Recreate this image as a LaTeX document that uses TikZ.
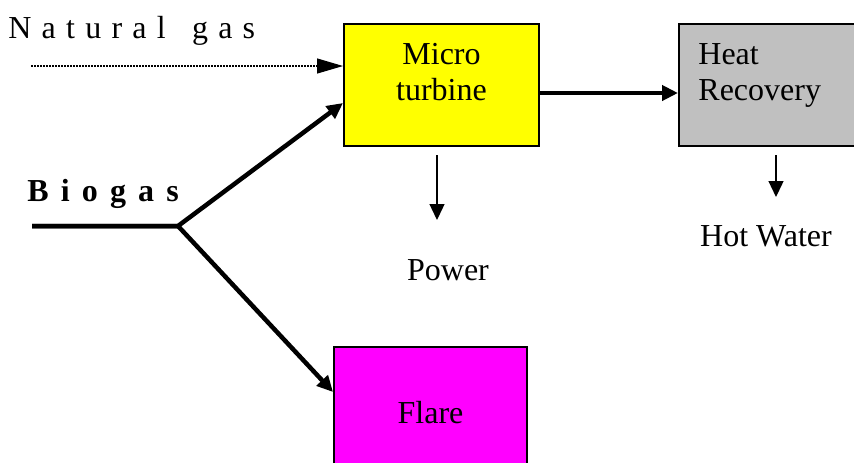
\documentclass[tikz,border=0pt]{standalone}
\usepackage{fontspec}
\setmainfont{Liberation Serif}
\usetikzlibrary{arrows.meta}
\definecolor{turbinefill}{HTML}{FFFF00}
\definecolor{heatfill}{HTML}{C0C0C0}
\definecolor{flarefill}{HTML}{FF00FF}

\begin{document}
\begin{tikzpicture}[x=0.5pt, y=-0.5pt, every node/.style={font=\fontsize{16}{18}\selectfont, inner sep=0pt}, box/.style={draw=black, line width=1pt, rectangle, minimum width=97.5pt, minimum height=61pt}, pipe/.style={line width=2.25pt, -{Triangle[length=8pt,width=7.5pt]}}, outflow/.style={line width=0.65pt, -{Triangle[length=8pt,width=7.5pt]}}, feed/.style={line width=0.6pt, dash pattern=on 0.75pt off 0.75pt, -{Triangle[length=13pt,width=7.5pt]}}]
\fill[white] (0,0) rectangle (854,462);
\useasboundingbox (0,0) rectangle (854,462);
\clip (0,0) rectangle (854,462);
\node[box, fill=turbinefill] (turbine) at (441.5,85) {};
\node[box, fill=heatfill, minimum width=110.5pt] (heat) at (789.5,85) {};
\node[box, fill=flarefill, minimum width=96.5pt, minimum height=65.5pt] (flare) at (430.5,412.5) {Flare};
\node[align=center, anchor=north] (turbinetext) at ([yshift=-10pt]turbine.north) {Micro\\turbine};
\node[align=left, anchor=north west] (heattext) at ([xshift=10pt,yshift=-10pt]heat.north west) {Heat\\Recovery};
\node[anchor=base west, font=\fontsize{16}{18}\selectfont\addfontfeature{LetterSpace=32}] (natgas) at (8,38) {Natural\hspace{4pt} gas};
\node[anchor=base west, font=\fontsize{16}{18}\selectfont\bfseries\addfontfeature{LetterSpace=38}] (biogas) at (27,201) {Biogas};
\node[anchor=base] (power) at (448,280) {Power};
\node[anchor=base] (water) at (766,246) {Hot Water};
\coordinate (natstart) at (31,66);
\coordinate (biostart) at (32,226);
\coordinate (split) at (178,226);
\coordinate (powerend) at (437,220);
\coordinate (waterend) at (776,197);
\draw[feed] (natstart) -- (turbine.west |- natstart);
\draw[pipe] (biostart) -- (split) -- ([yshift=-9pt]turbine.west);
\draw[pipe] (biostart) -- (split) -- ([yshift=10.25pt]flare.west);
\draw[pipe] ([yshift=-4pt]turbine.east) -- ([yshift=-4pt]heat.west);
\draw[outflow] ([yshift=-4pt]turbine.south -| powerend) -- (powerend);
\draw[outflow] ([yshift=-4pt]heat.south -| waterend) -- (waterend);
\end{tikzpicture}
\end{document}
